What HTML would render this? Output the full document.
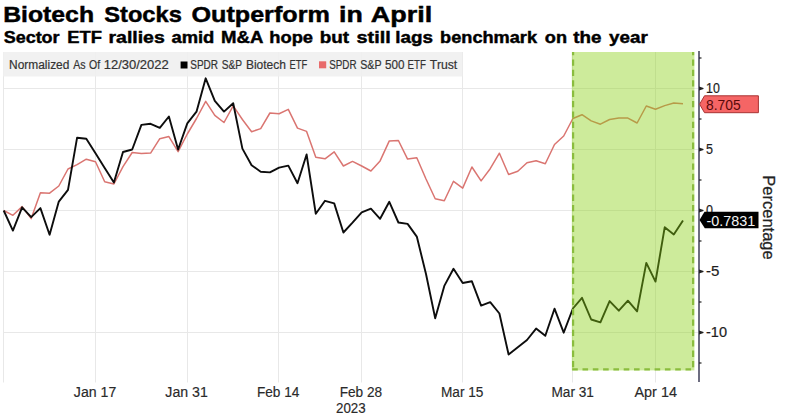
<!DOCTYPE html>
<html><head><meta charset="utf-8">
<style>
html,body{margin:0;padding:0;background:#fff;}
body{width:787px;height:417px;overflow:hidden;}
svg{display:block;font-family:"Liberation Sans",sans-serif;}
</style></head><body>
<svg width="787" height="417" viewBox="0 0 787 417">
<rect x="0" y="0" width="787" height="417" fill="#fff"/>
<g font-weight="bold" fill="#000" stroke="#000" stroke-width="0.45"><text x="3.21" y="22.4" font-size="22" textLength="90.84" lengthAdjust="spacingAndGlyphs">Biotech</text><text x="104.25" y="22.4" font-size="22" textLength="77.56" lengthAdjust="spacingAndGlyphs">Stocks</text><text x="191.47" y="22.4" font-size="22" textLength="138.33" lengthAdjust="spacingAndGlyphs">Outperform</text><text x="338.98" y="22.4" font-size="22" textLength="23.77" lengthAdjust="spacingAndGlyphs">in</text><text x="370.76" y="22.4" font-size="22" textLength="61.49" lengthAdjust="spacingAndGlyphs">April</text><text x="3.67" y="43.1" font-size="17" textLength="55.95" lengthAdjust="spacingAndGlyphs">Sector</text><text x="67.31" y="43.1" font-size="17" textLength="34.64" lengthAdjust="spacingAndGlyphs">ETF</text><text x="108.54" y="43.1" font-size="17" textLength="56.20" lengthAdjust="spacingAndGlyphs">rallies</text><text x="171.46" y="43.1" font-size="17" textLength="42.91" lengthAdjust="spacingAndGlyphs">amid</text><text x="221.10" y="43.1" font-size="17" textLength="42.26" lengthAdjust="spacingAndGlyphs">M&amp;A</text><text x="269.31" y="43.1" font-size="17" textLength="43.74" lengthAdjust="spacingAndGlyphs">hope</text><text x="319.68" y="43.1" font-size="17" textLength="29.37" lengthAdjust="spacingAndGlyphs">but</text><text x="356.60" y="43.1" font-size="17" textLength="34.08" lengthAdjust="spacingAndGlyphs">still</text><text x="395.27" y="43.1" font-size="17" textLength="37.71" lengthAdjust="spacingAndGlyphs">lags</text><text x="440.13" y="43.1" font-size="17" textLength="96.88" lengthAdjust="spacingAndGlyphs">benchmark</text><text x="544.85" y="43.1" font-size="17" textLength="22.19" lengthAdjust="spacingAndGlyphs">on</text><text x="573.28" y="43.1" font-size="17" textLength="28.18" lengthAdjust="spacingAndGlyphs">the</text><text x="609.09" y="43.1" font-size="17" textLength="38.71" lengthAdjust="spacingAndGlyphs">year</text></g>
<g stroke="#e8e8e8" stroke-width="1" fill="none"><line x1="3.5" y1="52" x2="3.5" y2="382.5" /><line x1="95.5" y1="52" x2="95.5" y2="382.5" /><line x1="187.5" y1="52" x2="187.5" y2="382.5" /><line x1="278.5" y1="52" x2="278.5" y2="382.5" /><line x1="361.5" y1="52" x2="361.5" y2="382.5" /><line x1="462.5" y1="52" x2="462.5" y2="382.5" /><line x1="572.5" y1="52" x2="572.5" y2="382.5" /><line x1="655.5" y1="52" x2="655.5" y2="382.5" /><line x1="3" y1="88.5" x2="698" y2="88.5" /><line x1="3" y1="149.5" x2="698" y2="149.5" /><line x1="3" y1="210.5" x2="698" y2="210.5" /><line x1="3" y1="271.5" x2="698" y2="271.5" /><line x1="3" y1="332.5" x2="698" y2="332.5" /></g>
<rect x="3" y="52" width="459.5" height="24.5" fill="#efefef" fill-opacity="0.9"/>
<g font-size="12" fill="#333" stroke="#333" stroke-width="0.2"><text x="9.11" y="69.2" textLength="60.27" lengthAdjust="spacingAndGlyphs">Normalized</text><text x="73.20" y="69.2" textLength="12.36" lengthAdjust="spacingAndGlyphs">As</text><text x="88.97" y="69.2" textLength="11.10" lengthAdjust="spacingAndGlyphs">Of</text><text x="103.73" y="69.2" textLength="64.98" lengthAdjust="spacingAndGlyphs">12/30/2022</text><text x="190.28" y="69.2" textLength="27.77" lengthAdjust="spacingAndGlyphs">SPDR</text><text x="221.78" y="69.2" textLength="20.34" lengthAdjust="spacingAndGlyphs">S&amp;P</text><text x="245.90" y="69.2" textLength="40.02" lengthAdjust="spacingAndGlyphs">Biotech</text><text x="289.52" y="69.2" textLength="17.75" lengthAdjust="spacingAndGlyphs">ETF</text><text x="329.19" y="69.2" textLength="27.35" lengthAdjust="spacingAndGlyphs">SPDR</text><text x="360.26" y="69.2" textLength="21.29" lengthAdjust="spacingAndGlyphs">S&amp;P</text><text x="385.11" y="69.2" textLength="19.49" lengthAdjust="spacingAndGlyphs">500</text><text x="407.59" y="69.2" textLength="18.39" lengthAdjust="spacingAndGlyphs">ETF</text><text x="429.89" y="69.2" textLength="27.39" lengthAdjust="spacingAndGlyphs">Trust</text><rect x="180.6" y="61.5" width="6.9" height="7" fill="#000" stroke="none"/><rect x="319" y="61.3" width="7.2" height="7" fill="#e86b6b" stroke="none"/></g>
<polyline points="3.7,210.5 12.9,215.3 22.1,206.6 31.2,218.6 40.4,192.7 49.6,193.2 58.8,186.0 68.0,169.0 77.1,164.6 86.3,159.2 95.5,161.7 104.7,181.8 113.9,184.0 123.0,166.7 132.2,152.5 141.4,153.5 150.6,153.1 159.8,138.7 168.9,136.6 178.1,151.7 187.3,134.0 196.5,118.5 205.7,101.4 214.8,115.3 224.0,122.5 233.2,105.8 242.4,119.5 251.6,131.7 260.7,128.6 269.9,113.0 279.1,113.7 288.3,109.4 297.5,128.1 306.6,131.4 315.8,157.2 325.0,158.8 334.2,151.9 343.4,166.0 352.5,161.4 361.7,166.0 370.9,171.0 380.1,160.9 389.3,140.9 398.4,140.5 407.6,159.1 416.8,157.7 426.0,179.0 435.2,198.8 444.3,200.7 453.5,181.3 462.7,188.1 471.9,167.0 481.1,180.9 490.2,168.7 499.4,153.2 508.6,174.5 517.8,171.3 527.0,162.7 536.1,160.8 545.3,163.7 554.5,144.5 563.7,136.0 572.9,118.5 582.0,114.7 591.2,120.9 600.4,124.2 609.6,119.5 618.8,118.1 627.9,118.1 637.1,123.0 646.3,106.0 655.5,109.3 664.7,105.6 673.8,103.0 683.0,103.7" fill="none" stroke="#da7571" stroke-width="1.5" stroke-linejoin="round"/>
<polyline points="3.7,210.5 12.9,230.6 22.1,207.3 31.2,217.1 40.4,208.1 49.6,234.7 58.8,201.6 68.0,189.8 77.1,137.7 86.3,138.7 95.5,153.3 104.7,167.9 113.9,182.6 123.0,152.0 132.2,149.5 141.4,124.9 150.6,123.8 159.8,127.9 168.9,116.5 178.1,149.5 187.3,123.4 196.5,111.7 205.7,78.3 214.8,100.9 224.0,111.6 233.2,103.2 242.4,148.6 251.6,165.2 260.7,171.7 269.9,172.4 279.1,167.6 288.3,165.6 297.5,183.2 306.6,154.5 315.8,213.8 325.0,200.8 334.2,203.4 343.4,232.5 352.5,222.7 361.7,212.3 370.9,208.7 380.1,218.8 389.3,201.8 398.4,222.5 407.6,223.9 416.8,236.6 426.0,274.0 435.2,318.3 444.3,285.9 453.5,268.8 462.7,283.0 471.9,281.3 481.1,305.6 490.2,302.2 499.4,313.5 508.6,354.5 517.8,347.3 527.0,340.0 536.1,328.6 545.3,335.8 554.5,308.7 563.7,332.7 572.9,308.5 582.0,297.8 591.2,319.5 600.4,322.4 609.6,301.1 618.8,310.7 627.9,300.7 637.1,311.4 646.3,262.9 655.5,281.6 664.7,227.3 673.8,234.5 683.0,220.4" fill="none" stroke="#0d0d0d" stroke-width="1.9" stroke-linejoin="round"/>
<rect x="571.8" y="52" width="122.6" height="318.4" fill="#88cf11" fill-opacity="0.42"/>
<g stroke="#8abd3e" stroke-width="2.2" fill="none">
<line x1="573.1" y1="52" x2="573.1" y2="369.3" stroke-dasharray="6.3 4.1" stroke-dashoffset="3"/>
<line x1="693.1" y1="52" x2="693.1" y2="369.3" stroke-dasharray="6.3 4.1" stroke-dashoffset="3"/>
<line x1="572.2" y1="369.4" x2="694" y2="369.4" stroke-dasharray="5.6 4.7"/>
</g>
<line x1="699" y1="51" x2="699" y2="382" stroke="#66667a" stroke-width="1.9"/>
<g fill="#222"><path d="M699,86.5 L703.5,88.0 L703.5,89.0 L699,90.5 Z" /><path d="M699,147.5 L703.5,149.0 L703.5,150.0 L699,151.5 Z" /><path d="M699,208.5 L703.5,210.0 L703.5,211.0 L699,212.5 Z" /><path d="M699,269.5 L703.5,271.0 L703.5,272.0 L699,273.5 Z" /><path d="M699,330.5 L703.5,332.0 L703.5,333.0 L699,334.5 Z" /><rect x="699" y="57.4" width="2.5" height="1.2" /><rect x="699" y="118.4" width="2.5" height="1.2" /><rect x="699" y="179.4" width="2.5" height="1.2" /><rect x="699" y="240.4" width="2.5" height="1.2" /><rect x="699" y="301.4" width="2.5" height="1.2" /><rect x="699" y="362.4" width="2.5" height="1.2" /></g>
<g font-size="14" fill="#1e1e1e" stroke="#1e1e1e" stroke-width="0.2"><text x="706" y="93.3" textLength="13.8" lengthAdjust="spacingAndGlyphs">10</text><text x="706" y="154.3" textLength="7" lengthAdjust="spacingAndGlyphs">5</text><text x="706" y="215.3" textLength="7" lengthAdjust="spacingAndGlyphs">0</text><text x="706" y="276.3" textLength="13.4" lengthAdjust="spacingAndGlyphs">-5</text><text x="706" y="337.3" textLength="21" lengthAdjust="spacingAndGlyphs">-10</text></g>
<g font-size="14" fill="#2a2a2a" stroke="#2a2a2a" stroke-width="0.15"><text x="95.1" y="396.5" text-anchor="middle" textLength="42.5" lengthAdjust="spacingAndGlyphs">Jan 17</text><text x="186.6" y="396.5" text-anchor="middle" textLength="42.5" lengthAdjust="spacingAndGlyphs">Jan 31</text><text x="278.2" y="396.5" text-anchor="middle" textLength="42.5" lengthAdjust="spacingAndGlyphs">Feb 14</text><text x="360.9" y="396.5" text-anchor="middle" textLength="42.5" lengthAdjust="spacingAndGlyphs">Feb 28</text><text x="462.2" y="396.5" text-anchor="middle" textLength="42.5" lengthAdjust="spacingAndGlyphs">Mar 15</text><text x="572.7" y="396.5" text-anchor="middle" textLength="42.5" lengthAdjust="spacingAndGlyphs">Mar 31</text><text x="655.7" y="396.5" text-anchor="middle" textLength="42.5" lengthAdjust="spacingAndGlyphs">Apr 14</text><text x="336" y="412.6" textLength="29.7" lengthAdjust="spacingAndGlyphs">2023</text></g>
<path d="M704.5,95.8 L758.4,95.8 L758.4,112.7 L704.5,112.7 L699.6,104.2 Z" fill="#f56565" stroke="#a83434" stroke-width="1"/>
<text x="706" y="109.6" font-size="14" fill="#580a0a" textLength="34.6" lengthAdjust="spacingAndGlyphs">8.705</text>
<path d="M704.5,211.7 L758.5,211.7 L758.5,228.3 L704.8,228.3 L699.5,220.1 Z" fill="#000"/>
<text x="706.5" y="225.8" font-size="14.5" fill="#f4f4f4" textLength="48.8" lengthAdjust="spacingAndGlyphs">-0.7831</text>
<text transform="translate(762.6,175.3) rotate(90)" font-size="16" fill="#222" stroke="#222" stroke-width="0.25" textLength="84.4" lengthAdjust="spacingAndGlyphs">Percentage</text>
</svg>
</body></html>
